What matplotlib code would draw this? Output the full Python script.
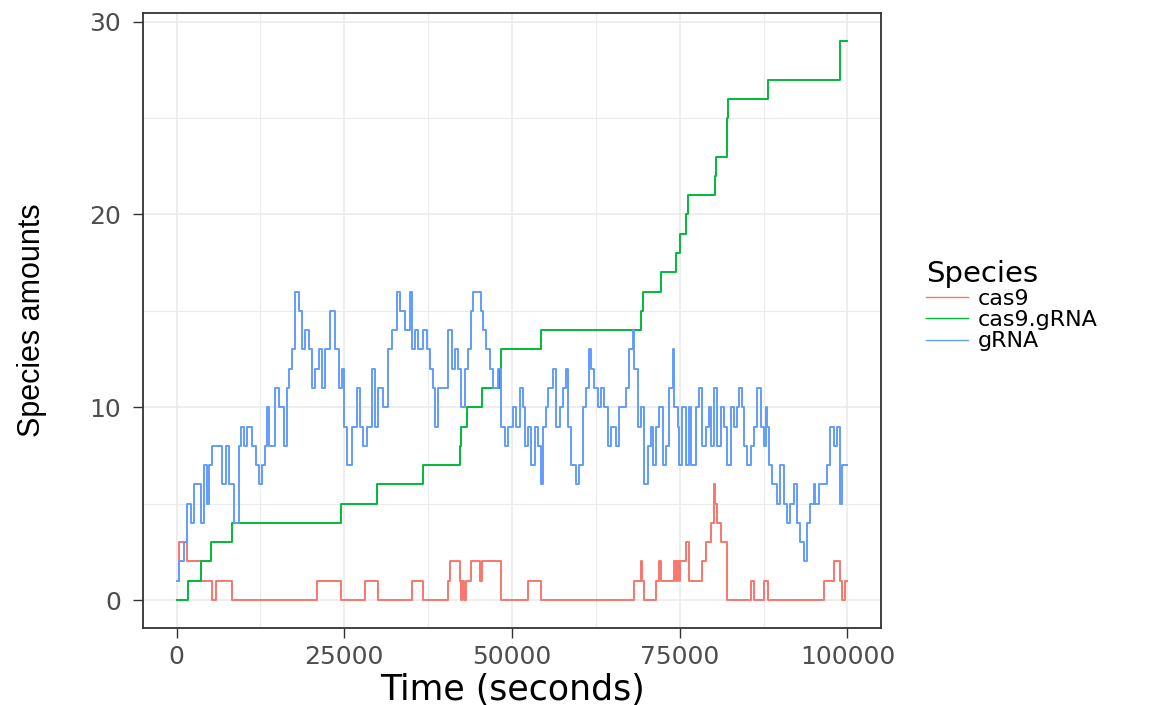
import matplotlib
matplotlib.use("Agg")
import matplotlib.pyplot as plt
from matplotlib.ticker import MultipleLocator

# Stochastic simulation trajectories (time in s, amounts)
cas9_time = [0, 370, 1610, 3590, 5320, 5820, 8290, 20930, 24550, 28110, 30090,
             35040, 36780, 40490, 40740, 42230, 42400, 42600, 42800, 43100,
             43960, 45300, 45600, 48330, 52380, 54360, 68230, 69220, 69450,
             69720, 71450, 71950, 72150, 74180, 74500, 74650, 74950, 75100,
             75900, 76400, 78390, 78880, 79600, 80120, 80250, 80500, 81110,
             82100, 85670, 86050, 87550, 88150, 96460, 97950, 98850, 99200,
             99680, 100000]
cas9_amount = [1, 3, 2, 1, 0, 1, 0, 1, 0, 1, 0,
               1, 0, 1, 2, 1, 0, 1, 0, 1,
               2, 1, 2, 0, 1, 0, 1, 2, 1,
               0, 1, 2, 1, 2, 1, 2, 1, 2,
               3, 1, 2, 3, 4, 6, 5, 4, 3,
               0, 1, 0, 1, 0, 1, 2, 1, 0,
               1, 1]

complex_time = [0, 1700, 3600, 5200, 8250, 24550, 29950, 36800, 42200, 42450,
                43350, 45600, 48200, 48400, 54300, 69200, 69600, 72200, 74400,
                75100, 76000, 76250, 80200, 80450, 82000, 82100, 82250, 88150,
                98850, 98950, 100000]
complex_amount = [0, 1, 2, 3, 4, 5, 6, 7, 8, 9,
                  10, 11, 12, 13, 14, 15, 16, 17, 18,
                  19, 20, 21, 22, 23, 24, 25, 26, 27,
                  28, 29, 29]

grna_time = [0, 370, 1110, 1610, 2110, 2600, 3590, 4090, 4580, 4830, 5320,
             6810, 7310, 7800, 8540, 9290, 9540, 10030, 10520, 11260, 11770,
             12260, 12750, 13250, 13490, 13750, 14740, 15230, 15970, 16470,
             16720, 17210, 17710, 18200, 18690, 19190, 19690, 20180, 20680,
             21180, 21670, 22170, 22910, 23660, 24150, 24640, 24890, 25380,
             26130, 26870, 27370, 27860, 28350, 29100, 29600, 30090, 30830,
             31580, 32070, 32810, 33310, 34060, 34800, 35040, 35550, 36040,
             36780, 37270, 37770, 38260, 38520, 39010, 40490, 40990, 41490,
             41980, 42470, 42970, 43470, 43960, 44210, 45450, 45690, 46190,
             46690, 47180, 47930, 48430, 48920, 49410, 50150, 50640, 51140,
             51640, 51890, 52380, 52870, 53380, 53870, 54360, 54610, 55100,
             55350, 56100, 56590, 57090, 57580, 58070, 58330, 58820, 59560,
             60060, 60560, 61050, 61550, 61790, 62290, 62780, 63280, 63780,
             64270, 64760, 65500, 66010, 66990, 67490, 67980, 68240, 68730,
             69220, 69720, 70210, 70700, 70950, 71450, 71950, 72440, 72930,
             73440, 73930, 74180, 74670, 74920, 75410, 75900, 76410, 76650,
             77390, 77900, 78390, 78880, 79380, 79620, 80120, 80610, 81110,
             81610, 82100, 82590, 83090, 83590, 83830, 84320, 84570, 85060,
             85560, 86050, 86550, 87050, 87550, 87790, 88040, 88290, 88780,
             89530, 90020, 90520, 91010, 91510, 92010, 92500, 92990, 93500,
             93980, 94480, 94980, 95220, 95730, 96960, 97460, 97950, 98450,
             98940, 99190, 100000]
grna_amount = [1, 2, 3, 5, 4, 6, 4, 7, 5, 7, 8,
               6, 8, 6, 4, 8, 9, 8, 9, 8, 7,
               6, 7, 8, 10, 8, 11, 10, 8, 11,
               12, 13, 16, 15, 13, 14, 13, 11, 12,
               13, 11, 13, 15, 13, 11, 12, 9, 7,
               9, 11, 9, 8, 9, 12, 9, 11, 10,
               13, 14, 16, 15, 14, 16, 13, 14, 13,
               14, 13, 12, 11, 9, 11, 14, 12, 13,
               12, 10, 12, 13, 15, 16, 15, 14, 13,
               12, 11, 12, 9, 8, 9, 10, 9, 11,
               10, 8, 9, 7, 9, 8, 6, 9, 10,
               11, 12, 9, 10, 11, 12, 9, 7, 6,
               7, 10, 11, 13, 12, 11, 10, 11, 10,
               8, 9, 8, 10, 11, 13, 14, 12, 9,
               10, 6, 8, 9, 7, 9, 10, 7, 8,
               11, 13, 10, 9, 7, 10, 7, 10, 7,
               10, 11, 8, 9, 10, 8, 11, 8, 10,
               9, 7, 10, 9, 10, 11, 10, 8, 7,
               8, 9, 11, 9, 8, 10, 9, 7, 6,
               5, 7, 5, 4, 5, 6, 4, 3, 2,
               4, 5, 6, 5, 6, 7, 9, 8, 9,
               5, 7, 7]

series = [
    ("cas9", cas9_time, cas9_amount, "#F8766D"),
    ("cas9.gRNA", complex_time, complex_amount, "#00BA38"),
    ("gRNA", grna_time, grna_amount, "#619CFF"),
]

GRID_COLOR = "#EBEBEB"
BORDER_COLOR = "#333333"
TICK_LABEL_COLOR = "#4D4D4D"

fig = plt.figure(figsize=(11.76, 7.05), dpi=100)
ax = fig.add_axes([143 / 1176, 1 - 628 / 705, 738 / 1176, 615 / 705])

handles = []
for name, t, v, color in series:
    line, = ax.step(t, v, where="post", color=color, linewidth=1.4, label=name)
    handles.append(line)

ax.set_xlim(-5000, 105000)
ax.set_ylim(-1.45, 30.45)
ax.xaxis.set_major_locator(MultipleLocator(25000))
ax.xaxis.set_minor_locator(MultipleLocator(12500))
ax.yaxis.set_major_locator(MultipleLocator(10))
ax.yaxis.set_minor_locator(MultipleLocator(5))

ax.grid(True, which="major", color=GRID_COLOR, linewidth=1.2)
ax.grid(True, which="minor", color=GRID_COLOR, linewidth=0.8)
ax.set_axisbelow(True)

for spine in ax.spines.values():
    spine.set_color(BORDER_COLOR)
    spine.set_linewidth(1.3)

ax.tick_params(which="major", direction="out", length=7, width=1.0,
               color=BORDER_COLOR, labelcolor=TICK_LABEL_COLOR, labelsize=18)
ax.tick_params(axis="y", pad=9)
ax.tick_params(axis="x", pad=5)
ax.tick_params(which="minor", length=0)

ax.set_xlabel("Time (seconds)", fontsize=25, color="black", labelpad=3)
ax.set_ylabel("Species amounts", fontsize=22, color="black",
              family=["Liberation Sans", "DejaVu Sans"])
ax.yaxis.set_label_coords(-0.13, 0.5)

leg = fig.legend(handles=handles, title="Species", loc="upper left",
                 bbox_to_anchor=(926 / 1176, 1 - 260 / 705),
                 frameon=False, fontsize=16, title_fontsize=21,
                 handlelength=1.9, handletextpad=0.45, labelspacing=0.05,
                 borderpad=0, borderaxespad=0, alignment="left")
for lh in leg.get_lines():
    lh.set_linewidth(1.0)

fig.savefig("out.png", dpi=100)
